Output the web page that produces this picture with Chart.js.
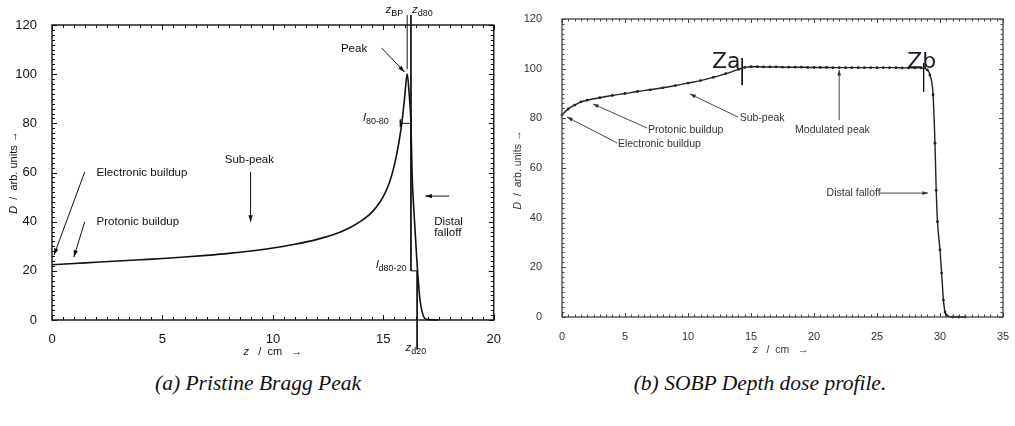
<!DOCTYPE html>
<html>
<head>
<meta charset="utf-8">
<script src="https://cdn.jsdelivr.net/npm/chart.js@4.4.0/dist/chart.umd.min.js"></script>
<style>
  body { margin: 0; background: #fff; width: 1015px; height: 426px; overflow: hidden; position: relative; }
  .box { position: absolute; top: 0; height: 365px; }
  .cap { position: absolute; top: 371px; width: 420px; text-align: center;
         font: italic 21.5px 'Liberation Serif', serif; color: #111; }
</style>
</head>
<body>
<div class="box" style="left:0;width:505px"><canvas id="braggChart" width="505" height="365"></canvas></div>
<div class="box" style="left:505px;width:510px"><canvas id="sobpChart" width="510" height="365"></canvas></div>
<div class="cap" style="left:48px">(a) Pristine Bragg Peak</div>
<div class="cap" style="left:550px">(b) SOBP Depth dose profile.</div>

<script>
// pristine Bragg peak (left)
const braggZ = [0, 1, 2, 3, 4, 5, 6, 7, 8, 9, 10, 11, 12, 13, 13.5, 14, 14.5, 14.85, 15.1, 15.3, 15.5, 15.7, 15.85, 15.97, 16.08,
                16.17, 16.25, 16.3, 16.4, 16.5, 16.55, 16.65, 16.75, 16.85, 17, 17.5];
const braggD = [22.5, 23, 23.5, 24, 24.5, 25, 25.6, 26.3, 27.1, 28.1, 29.3, 30.8, 32.8, 35.6, 37.6, 40.3, 44, 48, 52, 56.5, 63, 72, 81, 91, 100,
                92, 80, 60, 42, 27, 20, 9, 3.5, 1, 0.2, 0];
const braggXTicks = [0, 5, 10, 15, 20];

// SOBP depth dose (right)
const sobpZ = [0, 0.5, 1, 1.5, 2, 3, 4, 5, 6, 7, 8, 9, 10, 11, 12, 13, 14, 14.5,
               15, 15.5, 16, 16.5, 17, 17.5, 18, 18.5, 19, 19.5, 20, 20.5, 21, 21.5, 22, 22.5, 23, 23.5, 24, 24.5,
               25, 25.5, 26, 26.5, 27, 27.5, 28, 28.5, 29, 29.2, 29.45, 29.6, 29.7, 29.8, 30, 30.13, 30.27, 30.4, 30.5,
               31, 31.5, 32];
const sobpD = [81.4, 83.8, 85.3, 86.6, 87.3, 88.3, 89.2, 90, 90.8, 91.5, 92.3, 93.2, 94.2, 95.2, 96.5, 98, 99.7, 100.5,
               100.8, 100.8, 100.7, 100.7, 100.7, 100.6, 100.6, 100.6, 100.6, 100.5, 100.5, 100.5, 100.5, 100.4, 100.4, 100.4,
               100.4, 100.4, 100.4, 100.4, 100.4, 100.4, 100.4, 100.4, 100.3, 100.3, 100.3, 100.3, 99.5, 97.5, 89.5, 70, 51,
               38.4, 27, 17.7, 6.8, 2, 0.8, 0, 0, 0];
const sobpXTicks = [0, 5, 10, 15, 20, 25, 30, 35];

const doseTicks = [0, 20, 40, 60, 80, 100, 120];

function toPoints(xs, ys) { return xs.map((x, i) => ({ x: x, y: ys[i] })); }
function seg(pts) { return pts.map(p => ({ x: p[0], y: p[1] })); }

// draw text made of several parts (italic, subscript)
function drawRich(ctx, parts, x, y, o) {
  const size = o.size, fam = o.family;
  const fontOf = p => (p.it ? 'italic ' : '') + (p.sub ? size * 0.78 : size) + 'px ' + fam;
  let w = 0;
  parts.forEach(p => { ctx.font = fontOf(p); w += ctx.measureText(p.t).width; });
  let cx = o.align === 'right' ? x - w : (o.align === 'center' ? x - w / 2 : x);
  ctx.textBaseline = 'middle';
  ctx.textAlign = 'left';
  ctx.fillStyle = o.color;
  parts.forEach(p => {
    ctx.font = fontOf(p);
    ctx.fillText(p.t, cx, p.sub ? y + size * 0.3 : y);
    cx += ctx.measureText(p.t).width;
  });
  return w;
}

function arrow(ctx, x1, y1, x2, y2, head) {
  ctx.beginPath(); ctx.moveTo(x1, y1); ctx.lineTo(x2, y2); ctx.stroke();
  const a = Math.atan2(y2 - y1, x2 - x1);
  ctx.beginPath();
  ctx.moveTo(x2, y2);
  ctx.lineTo(x2 - head * Math.cos(a - 0.32), y2 - head * Math.sin(a - 0.32));
  ctx.lineTo(x2 - head * Math.cos(a + 0.32), y2 - head * Math.sin(a + 0.32));
  ctx.closePath(); ctx.fill();
}

// box round the plot with inward ticks on all sides
const frameTicks = {
  id: 'frameTicks',
  afterDatasetsDraw(chart, args, o) {
    const { ctx, chartArea: a, scales: { x, y } } = chart;
    ctx.save();
    ctx.strokeStyle = o.color;
    ctx.lineWidth = o.width;
    ctx.strokeRect(a.left, a.top, a.right - a.left, a.bottom - a.top);
    ctx.lineWidth = 1;
    const isMajor = (v, m) => Math.abs(v / m - Math.round(v / m)) < 1e-6;
    for (let v = x.min; v <= x.max + 1e-9; v += o.xMinor) {
      const px = Math.round(x.getPixelForValue(v)) + 0.5;
      const L = isMajor(v, o.xMajor) ? o.major : o.minor;
      ctx.beginPath();
      ctx.moveTo(px, a.bottom); ctx.lineTo(px, a.bottom - L);
      ctx.moveTo(px, a.top); ctx.lineTo(px, a.top + L);
      ctx.stroke();
    }
    for (let v = y.min; v <= y.max + 1e-9; v += o.yMinor) {
      const py = Math.round(y.getPixelForValue(v)) + 0.5;
      const L = isMajor(v, o.yMajor) ? o.major : o.minor;
      ctx.beginPath();
      ctx.moveTo(a.left, py); ctx.lineTo(a.left + L, py);
      ctx.moveTo(a.right, py); ctx.lineTo(a.right - L, py);
      ctx.stroke();
    }
    ctx.restore();
  }
};

// labels and arrows, placed in data units
const notes = {
  id: 'notes',
  afterDraw(chart, args, o) {
    const { ctx, chartArea: a, scales: { x, y } } = chart;
    ctx.save();
    ctx.strokeStyle = o.color;
    ctx.fillStyle = o.color;
    ctx.lineWidth = o.lineWidth;
    (o.arrows || []).forEach(r => {
      arrow(ctx, x.getPixelForValue(r[0]), y.getPixelForValue(r[1]),
                 x.getPixelForValue(r[2]), y.getPixelForValue(r[3]), o.head);
    });
    (o.texts || []).forEach(t => {
      drawRich(ctx, t.parts, x.getPixelForValue(t.x), y.getPixelForValue(t.y),
        { size: t.size || o.size, family: t.family || o.family, color: t.color || o.color, align: t.align || 'left' });
    });
    // axis titles
    const yt = o.yTitle, xt = o.xTitle;
    ctx.save();
    ctx.translate(a.left + yt.dx, (a.top + a.bottom) / 2 + (yt.dy || 0));
    ctx.rotate(-Math.PI / 2);
    drawRich(ctx, yt.parts, 0, 0, { size: o.titleSize, family: o.family, color: o.color, align: 'center' });
    ctx.restore();
    drawRich(ctx, xt.parts, (a.left + a.right) / 2 + (xt.dx || 0), a.bottom + xt.dy,
      { size: o.titleSize, family: o.family, color: o.color, align: 'center' });
    ctx.restore();
  }
};

function axes(xMax, xTicks, yLeft, xHeight, tickFont, xPad, yPad) {
  return {
    x: {
      type: 'linear', min: 0, max: xMax,
      grid: { display: false }, border: { display: false },
      afterBuildTicks: s => { s.ticks = xTicks.map(v => ({ value: v })); },
      afterFit: s => { s.height = xHeight; },
      ticks: { font: tickFont, color: tickFont.color, padding: xPad, maxRotation: 0 }
    },
    y: {
      type: 'linear', min: 0, max: 120,
      grid: { display: false }, border: { display: false },
      afterBuildTicks: s => { s.ticks = doseTicks.map(v => ({ value: v })); },
      afterFit: s => { s.width = yLeft; },
      ticks: { font: tickFont, color: tickFont.color, padding: yPad }
    }
  };
}

const refLine = pts => ({
  data: seg(pts), borderColor: '#111', borderWidth: 1, pointRadius: 0, clip: false, tension: 0
});

const braggChart = new Chart(document.getElementById('braggChart'), {
  type: 'line',
  data: {
    datasets: [
      {
        data: toPoints(braggZ, braggD), borderColor: '#111', borderWidth: 1.6,
        pointRadius: 0, cubicInterpolationMode: 'monotone', clip: false
      },
      refLine([[16.08, 102], [16.08, 124]]),            // z_BP
      refLine([[16.25, 124], [16.25, 20], [16.55, 20]]), // z_d80 and l_d80-20
      refLine([[16.53, 20], [16.53, -12]]),             // z_d20
      refLine([[15.77, 81.5], [15.77, 78.5], [15.77, 80], [16.25, 80]]) // l_80-80
    ]
  },
  options: {
    responsive: false, animation: false, events: [],
    layout: { padding: { left: 0, top: 25, right: 8, bottom: 0 } },
    scales: axes(20, braggXTicks, 52, 45, { family: "'Liberation Sans', Arial", size: 13, color: '#111' }, 4, 7),
    plugins: {
      legend: { display: false }, tooltip: { enabled: false },
      frameTicks: { color: '#111', width: 1.4, xMajor: 5, xMinor: 0.5, yMajor: 20, yMinor: 2, major: 5, minor: 3 },
      notes: {
        color: '#111', lineWidth: 1, head: 7, size: 11.5, titleSize: 11,
        family: "'Liberation Sans', Arial",
        arrows: [
          [1.48, 60.2, 0.09, 26.4],
          [1.48, 39.9, 0.99, 25.6],
          [8.99, 60.2, 8.99, 39.9],
          [14.92, 110.7, 15.96, 100.9],
          [17.98, 50.4, 16.9, 50.4]
        ],
        texts: [
          { x: 2.02, y: 59.8, parts: [{ t: 'Electronic buildup' }] },
          { x: 2.02, y: 39.9, parts: [{ t: 'Protonic buildup' }] },
          { x: 7.82, y: 65.1, parts: [{ t: 'Sub-peak' }] },
          { x: 13.08, y: 110.3, parts: [{ t: 'Peak' }] },
          { x: 17.3, y: 39.9, parts: [{ t: 'Distal' }] },
          { x: 17.3, y: 35.4, parts: [{ t: 'falloff' }] },
          { x: 15.25, y: 82.2, align: 'right', parts: [{ t: 'l', it: true }, { t: '80-80', sub: true }] },
          { x: 16.05, y: 22.4, align: 'right', parts: [{ t: 'l', it: true }, { t: 'd80-20', sub: true }] },
          { x: 15.1, y: 126, parts: [{ t: 'z', it: true }, { t: 'BP', sub: true }] },
          { x: 16.3, y: 126, parts: [{ t: 'z', it: true }, { t: 'd80', sub: true }] },
          { x: 16.0, y: -11.5, parts: [{ t: 'z', it: true }, { t: 'd20', sub: true }] }
        ],
        yTitle: { dx: -38, parts: [{ t: 'D', it: true }, { t: '  /  arb. units →' }] },
        xTitle: { dy: 32, parts: [{ t: 'z', it: true }, { t: '   /  cm   →' }] }
      }
    }
  },
  plugins: [frameTicks, notes]
});

const sobpChart = new Chart(document.getElementById('sobpChart'), {
  type: 'line',
  data: {
    datasets: [
      {
        data: toPoints(sobpZ, sobpD), borderColor: '#222', borderWidth: 1.4,
        pointRadius: 1.4, pointBackgroundColor: '#222', pointBorderWidth: 0,
        cubicInterpolationMode: 'monotone', clip: false
      },
      refLine([[14.3, 104.3], [14.3, 93.4]]), // Za
      refLine([[28.7, 102.3], [28.7, 90.6]])  // Zb
    ]
  },
  options: {
    responsive: false, animation: false, events: [],
    layout: { padding: { left: 0, top: 19, right: 12, bottom: 0 } },
    scales: axes(35, sobpXTicks, 57, 48, { family: "'Liberation Sans', Arial", size: 11, color: '#333' }, 5, 12),
    plugins: {
      legend: { display: false }, tooltip: { enabled: false },
      frameTicks: { color: '#444', width: 1.3, xMajor: 5, xMinor: 0.5, yMajor: 20, yMinor: 2, major: 4, minor: 2.5 },
      notes: {
        color: '#333', lineWidth: 0.9, head: 6, size: 10.5, titleSize: 10.5,
        family: "'Liberation Sans', Arial",
        arrows: [
          [13.97, 80.5, 10.16, 89.8],
          [22, 79.3, 22, 99.5],
          [6.75, 76.1, 2.46, 85.8],
          [4.37, 70.1, 0.4, 80.5],
          [25.2, 49.9, 29.05, 49.9]
        ],
        texts: [
          { x: 11.9, y: 102.5, size: 22, family: "'DejaVu Sans', sans-serif", color: '#1b1b28', parts: [{ t: 'Za' }] },
          { x: 27.4, y: 102.5, size: 22, family: "'DejaVu Sans', sans-serif", color: '#1b1b28', parts: [{ t: 'Zb' }] },
          { x: 14.1, y: 80.1, parts: [{ t: 'Sub-peak' }] },
          { x: 18.5, y: 75.3, parts: [{ t: 'Modulated peak' }] },
          { x: 6.83, y: 75.3, parts: [{ t: 'Protonic buildup' }] },
          { x: 4.44, y: 69.7, parts: [{ t: 'Electronic buildup' }] },
          { x: 21.0, y: 49.9, parts: [{ t: 'Distal falloff' }] }
        ],
        yTitle: { dx: -44, dy: 2, parts: [{ t: 'D', it: true }, { t: '  /  arb. units →' }] },
        xTitle: { dy: 33, dx: -2, parts: [{ t: 'z', it: true }, { t: '   /  cm   →' }] }
      }
    }
  },
  plugins: [frameTicks, notes]
});
</script>
</body>
</html>
